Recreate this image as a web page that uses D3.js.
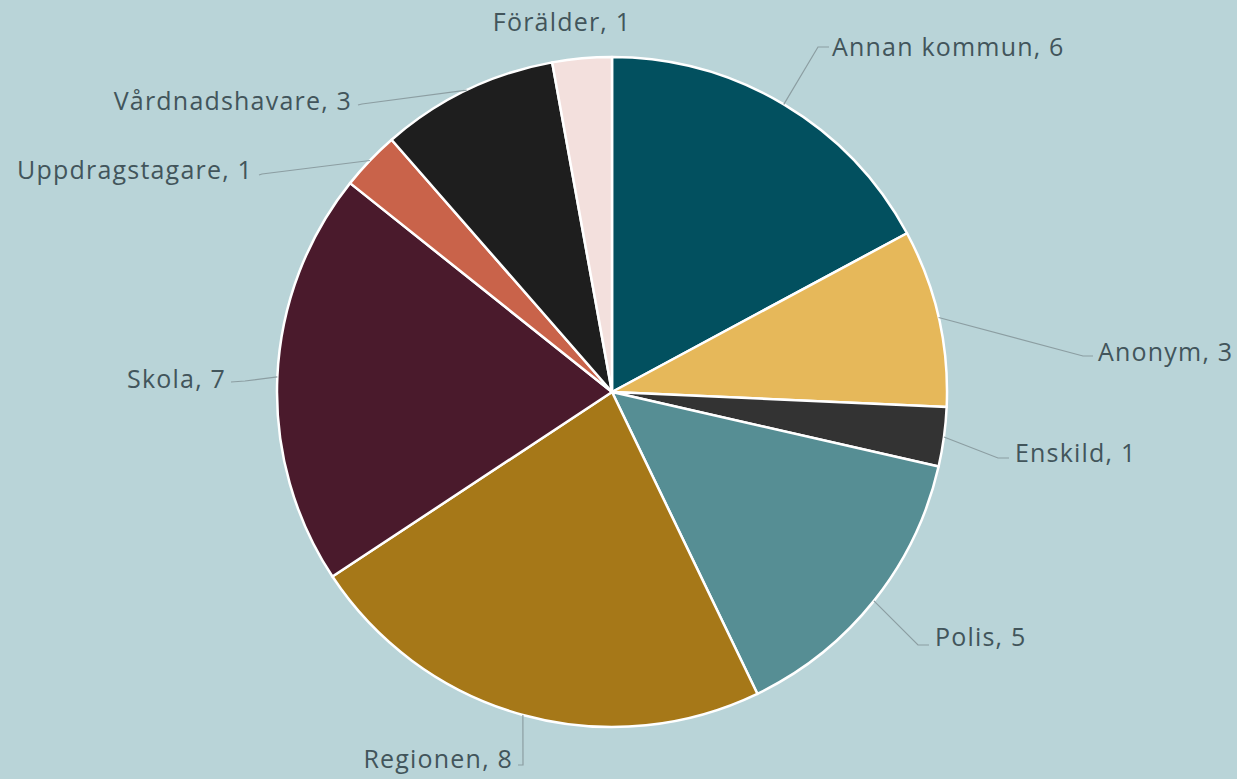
<!DOCTYPE html>
<html>
<head>
<meta charset="utf-8">
<script src="https://cdn.jsdelivr.net/npm/d3@7"></script>
<style>
  html, body { margin: 0; padding: 0; background: #B9D4D8; }
  svg { display: block; }
</style>
</head>
<body>
<svg id="chart" width="1237" height="779"></svg>
<script>
// ---- data ----
const categories = ["Annan kommun", "Anonym", "Enskild", "Polis", "Regionen", "Skola", "Uppdragstagare", "Vårdnadshavare", "Förälder"];
const values = [6, 3, 1, 5, 8, 7, 1, 3, 1];
const colors = ["#02505F", "#E6B85A", "#333333", "#568E94", "#A67818", "#4A1A2C", "#C9634A", "#1E1E1E", "#F3E0DD"];

// ---- label layout (positions only) ----
const labelLayout = [
  { anchor: "start",  tx: 832,  ty: 56,  elbow: [818, 47],  end: [829, 47] },
  { anchor: "start",  tx: 1098, ty: 361, elbow: [1083, 356], end: [1093, 356] },
  { anchor: "start",  tx: 1015, ty: 462, elbow: [998, 458], end: [1009, 458] },
  { anchor: "start",  tx: 935,  ty: 646, elbow: [918, 645], end: [929, 645] },
  { anchor: "end",    tx: 513,  ty: 768, elbow: [523, 765], end: [518, 765] },
  { anchor: "end",    tx: 226,  ty: 388, elbow: [245, 381], end: [231, 382] },
  { anchor: "end",    tx: 253,  ty: 179, elbow: [262, 174], end: [259, 175] },
  { anchor: "end",    tx: 352,  ty: 110, elbow: [362, 104], end: [358, 105] },
  { anchor: "middle", tx: 562,  ty: 31,  elbow: null,       end: null }
];

const data = categories.map((c, i) => ({ name: c, value: values[i], color: colors[i], layout: labelLayout[i] }));

const svg = d3.select("#chart");
const cx = 612, cy = 392, r = 335;

const pie = d3.pie().value(d => d.value).sort(null).startAngle(0).endAngle(2 * Math.PI);
const arc = d3.arc().innerRadius(0).outerRadius(r);
const edgeArc = d3.arc().innerRadius(r).outerRadius(r);

const arcs = pie(data);
const g = svg.append("g").attr("transform", `translate(${cx},${cy})`);

g.selectAll("path.slice")
  .data(arcs)
  .join("path")
  .attr("class", "slice")
  .attr("d", arc)
  .attr("fill", d => d.data.color)
  .attr("stroke", "#FFFFFF")
  .attr("stroke-width", 2.5)
  .attr("stroke-linejoin", "round");

// leader lines
svg.append("g").selectAll("polyline")
  .data(arcs.filter(d => d.data.layout.elbow))
  .join("polyline")
  .attr("points", d => {
    const c = edgeArc.centroid(d);
    const p0 = [cx + c[0], cy + c[1]];
    const L = d.data.layout;
    return [p0, L.elbow, L.end].map(p => p.join(",")).join(" ");
  })
  .attr("fill", "none")
  .attr("stroke", "#8C9EA2")
  .attr("stroke-width", 1.2);

// labels
svg.append("g").selectAll("text")
  .data(arcs)
  .join("text")
  .attr("x", d => d.data.layout.tx)
  .attr("y", d => d.data.layout.ty)
  .attr("text-anchor", d => d.data.layout.anchor)
  .attr("font-family", "'Open Sans', sans-serif")
  .attr("font-size", 25)
  .attr("letter-spacing", 1.2)
  .attr("fill", "#42555B")
  .text(d => `${d.data.name}, ${d.data.value}`);
</script>
</body>
</html>
